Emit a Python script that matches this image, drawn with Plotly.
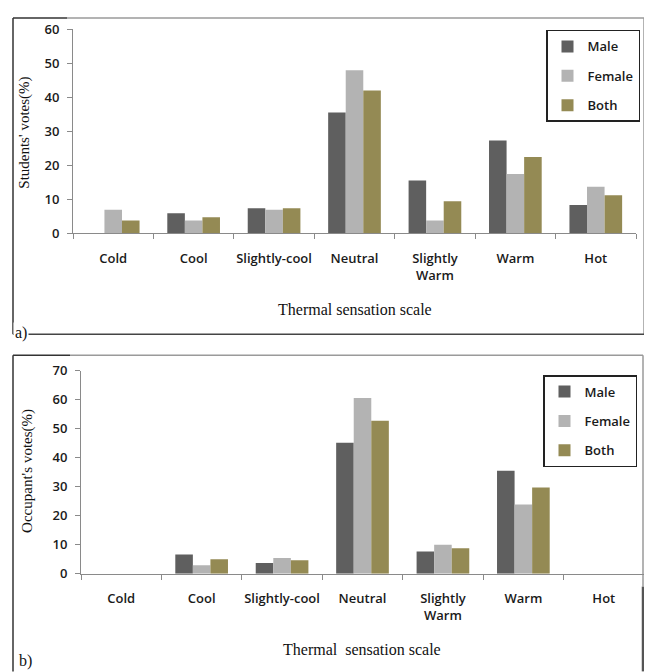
import plotly.graph_objects as go

categories = ["Cold", "Cool", "Slightly-cool", "Neutral", "Slightly<br>Warm", "Warm", "Hot"]

students_male = [0, 5.9, 7.3, 35.5, 15.5, 27.3, 8.3]
students_female = [6.9, 3.7, 6.9, 48.0, 3.7, 17.4, 13.7]
students_both = [3.7, 4.7, 7.3, 42.0, 9.4, 22.4, 11.2]

occupant_male = [0, 6.6, 3.7, 45.2, 7.6, 35.5, 0]
occupant_female = [0, 2.9, 5.4, 60.6, 10.0, 23.9, 0]
occupant_both = [0, 5.0, 4.6, 52.8, 8.8, 29.7, 0]

series_names = ["Male", "Female", "Both"]
colors = ["#5f5f5f", "#b3b3b3", "#948a54"]

W, H = 652, 672
# page -> picture mapping observed for this viewer (body margin, vertical downscale)
SY = 0.9756
OX, OY = 8.0, 16.4


def clamp(v):
    return max(0.0, min(1.0, v))


def px(x):
    return (x - OX) / W


def py(y):
    return 1 - (y / SY - OY) / H


fig = go.Figure()

for name, vals, col in zip(series_names, [students_male, students_female, students_both], colors):
    fig.add_trace(go.Bar(x=categories, y=vals, name=name, marker=dict(color=col, line=dict(width=0)),
                         xaxis="x", yaxis="y", legend="legend", legendgroup="a" + name))

for name, vals, col in zip(series_names, [occupant_male, occupant_female, occupant_both], colors):
    fig.add_trace(go.Bar(x=categories, y=vals, name=name, marker=dict(color=col, line=dict(width=0)),
                         xaxis="x2", yaxis="y2", legend="legend2", legendgroup="b" + name))

tickfont = dict(family="Open Sans", size=13, color="#1a1a1a", weight=600)
axcol = "#8a8a8a"

xcommon = dict(type="category", range=[-0.5, 6.5], showline=True, linecolor=axcol, linewidth=1,
               ticks="outside", tickson="boundaries", ticklen=5, tickcolor=axcol, tickangle=0,
               tickfont=tickfont, showgrid=False, zeroline=False, ticklabelstandoff=13,
               fixedrange=True)
ycommon = dict(showline=True, linecolor=axcol, linewidth=1, ticks="outside", ticklen=5,
               tickcolor=axcol, tickfont=tickfont, showgrid=False, zeroline=False, dtick=10,
               ticklabelstandoff=5, fixedrange=True)

legend_common = dict(bordercolor="#222222", borderwidth=1.5, bgcolor="white",
                     font=dict(family="Open Sans", size=13, color="#1a1a1a", weight=600),
                     tracegroupgap=9.5, itemwidth=30, xanchor="right", yanchor="top")

fig.update_layout(
    width=W, height=H, margin=dict(l=0, r=0, t=0, b=0),
    paper_bgcolor="white", plot_bgcolor="white",
    barmode="group", bargap=0.345, bargroupgap=0,
    xaxis=dict(domain=[clamp(px(73)), clamp(px(636))], anchor="y", **xcommon),
    yaxis=dict(domain=[clamp(py(232.7)), clamp(py(28.4))], anchor="x", range=[0, 60], **ycommon),
    xaxis2=dict(domain=[clamp(px(81)), clamp(px(644))], anchor="y2", **xcommon),
    yaxis2=dict(domain=[clamp(py(574)), clamp(py(370.7))], anchor="x2", range=[0, 70], **ycommon),
    legend=dict(x=clamp(px(640)), y=clamp(py(29)), **legend_common),
    legend2=dict(x=clamp(px(637)), y=clamp(py(375)), **legend_common),
    showlegend=True,
)

serif = "Liberation Serif"
annotations = [
    dict(text="Students' votes(%)", x=px(25), y=py(132), textangle=-90,
         font=dict(family=serif, size=15, color="#111")),
    dict(text="Occupant's votes(%)", x=px(28), y=py(471), textangle=-90,
         font=dict(family=serif, size=15, color="#111")),
    dict(text="Thermal sensation scale", x=px(355), y=py(309),
         font=dict(family=serif, size=16, color="#111")),
    dict(text="Thermal  sensation scale", x=px(362), y=py(650),
         font=dict(family=serif, size=16, color="#111")),
    dict(text="a)", x=px(21), y=py(333), bgcolor="white",
         font=dict(family=serif, size=16, color="#111")),
    dict(text="b)", x=px(25), y=py(662), bgcolor="white",
         font=dict(family=serif, size=16, color="#111")),
]
for a in annotations:
    a.update(xref="paper", yref="paper", showarrow=False, xanchor="center", yanchor="middle")
fig.update_layout(annotations=annotations)


def seg(x0, y0, x1, y1, color, width=1.5):
    return dict(type="line", xref="paper", yref="paper", x0=px(x0), y0=py(y0), x1=px(x1), y1=py(y1),
                line=dict(color=color, width=width), layer="below")


dark = "#333333"
light = "#9a9a9a"
top_a = 17
right_a = 644
right_b = 643
shapes = [
    # panel a
    seg(13, top_a, 13, 334, dark),
    seg(13, top_a, 67, top_a, dark),
    seg(67, top_a, right_a, top_a, light),
    seg(right_a, top_a, right_a, 334, light),
    seg(13, 334, right_a, 334, "#444444"),
    # panel b
    seg(13, 355, 13, 672, dark),
    seg(13, 355, 70, 355, dark),
    seg(70, 355, right_b, 355, light),
    seg(right_b, 355, right_b, 587, light),
    seg(right_b, 587, right_b, 672, "#555555", 2.5),
]
fig.update_layout(shapes=shapes)

fig.write_html("out.html")
